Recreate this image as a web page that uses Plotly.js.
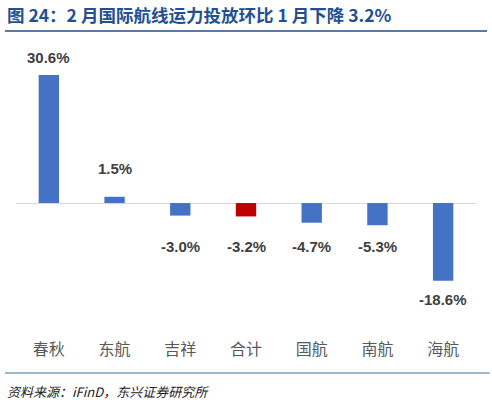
<!DOCTYPE html>
<html>
<head>
<meta charset="utf-8">
<script src="https://cdn.plot.ly/plotly-3.0.1.min.js"></script>
<style>
  html, body { margin: 0; padding: 0; background: #fff; }
  #chart { width: 492px; height: 402px; }
</style>
</head>
<body>
<div id="chart"></div>
<script>
// данные графика
const airlines = ['春秋', '东航', '吉祥', '合计', '国航', '南航', '海航'];
const changePct = [30.6, 1.5, -3.0, -3.2, -4.7, -5.3, -18.6];
const totalName = '合计';

const titleText = '图 24：2 月国际航线运力投放环比 1 月下降 3.2%';
const sourceText = '资料来源：iFinD，东兴证券研究所';

const cjkFont = '"Noto Sans CJK SC", "Liberation Sans", Arial, sans-serif';
const numFont = '"Liberation Sans", Arial, sans-serif';

// цвета столбцов: итог красным
const barColors = airlines.map(a => a === totalName ? '#c00000' : '#4472c4');

const trace = {
    x: airlines,
    y: changePct,
    type: 'bar',
    marker: { color: barColors },
    hoverinfo: 'x+y',
    showlegend: false
};

// подписи значений
const labels = changePct.map((v, i) => ({
    x: airlines[i],
    y: v >= 0 ? Math.max(v, 4) : Math.min(v, -6),
    xref: 'x',
    yref: 'y',
    text: v.toFixed(1) + '%',
    showarrow: false,
    yanchor: v >= 0 ? 'bottom' : 'top',
    yshift: v >= 0 ? 7 : -8,
    font: { family: numFont, size: 15, color: '#404040', weight: 'bold' }
}));

const extra = [
    {
        xref: 'paper', yref: 'paper', x: -0.024, y: 1.0, yshift: 26,
        xanchor: 'left', yanchor: 'middle',
        text: '<b>' + titleText + '</b>',
        showarrow: false,
        font: { family: cjkFont, size: 17.5, color: '#24508f' }
    },
    {
        xref: 'paper', yref: 'paper', x: -0.024, y: 0, yshift: -55,
        xanchor: 'left', yanchor: 'middle',
        text: '<i>' + sourceText + '</i>',
        showarrow: false,
        font: { family: cjkFont, size: 13, color: '#222' }
    }
];

const layout = {
    width: 492,
    height: 402,
    margin: { l: 16, r: 16, t: 40, b: 66 },
    paper_bgcolor: '#fff',
    plot_bgcolor: '#fff',
    bargap: 0.69,
    xaxis: {
        type: 'category',
        showline: false,
        showgrid: false,
        ticks: '',
        ticklabelstandoff: 2,
        tickfont: { family: cjkFont, size: 16, color: '#595959' }
    },
    yaxis: {
        range: [-31.8, 39.0],
        showgrid: false,
        showticklabels: false,
        showline: false,
        zeroline: true,
        zerolinecolor: '#d9d9d9',
        zerolinewidth: 1
    },
    shapes: [
        {
            type: 'line', xref: 'paper', yref: 'paper',
            ysizemode: 'pixel', yanchor: 1,
            x0: -0.024, x1: 1.024, y0: 9, y1: 9,
            line: { color: '#1f4e8c', width: 1.5 }
        },
        {
            type: 'line', xref: 'paper', yref: 'paper',
            ysizemode: 'pixel', yanchor: 0,
            x0: -0.024, x1: 1.03, y0: -37, y1: -37,
            line: { color: '#7f9fc0', width: 1.5 }
        }
    ],
    annotations: labels.concat(extra)
};

Plotly.newPlot('chart', [trace], layout, { displayModeBar: false, staticPlot: true });
</script>
</body>
</html>
